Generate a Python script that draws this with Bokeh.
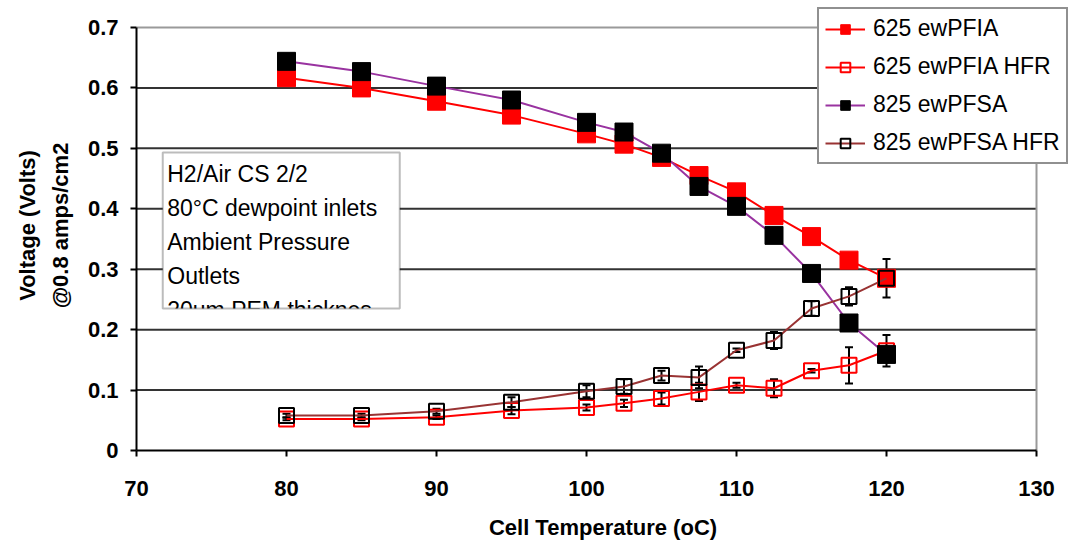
from bokeh.plotting import figure
from bokeh.models import (Range1d, FixedTicker, Legend, LegendItem, Whisker, TeeHead,
                          ColumnDataSource, BoxAnnotation, Label)
from bokeh.embed import file_html
from bokeh.resources import INLINE

# ---------------- data ----------------
temps = [80, 85, 90, 95, 100, 102.5, 105, 107.5, 110, 112.5, 115, 117.5, 120]
v625 = [0.617, 0.600, 0.578, 0.555, 0.524, 0.507, 0.485, 0.455, 0.428, 0.389, 0.354, 0.315, 0.285]
hfr625 = [0.052, 0.052, 0.055, 0.066, 0.071, 0.078, 0.086, 0.097, 0.108, 0.103, 0.132, 0.141, 0.165]
v825 = [0.644, 0.627, 0.603, 0.580, 0.543, 0.527, 0.492, 0.437, 0.404, 0.356, 0.293, 0.211, 0.159]
hfr825 = [0.058, 0.058, 0.065, 0.080, 0.098, 0.106, 0.124, 0.121, 0.166, 0.182, 0.235, 0.255, 0.285]
err625 = [0.002, 0.002, 0.003, 0.006, 0.005, 0.006, 0.010, 0.015, 0.004, 0.015, 0.003, 0.030, 0.026]
err825 = [0.003, 0.003, 0.004, 0.008, 0.010, 0.012, 0.008, 0.018, 0.003, 0.014, 0.012, 0.015, 0.032]

series_names = ["625 ewPFIA", "625 ewPFIA HFR", "825 ewPFSA", "825 ewPFSA HFR"]
x_ticks = [70, 80, 90, 100, 110, 120, 130]
y_ticks = [0, 0.1, 0.2, 0.3, 0.4, 0.5, 0.6, 0.7]
note_lines = ["H2/Air CS 2/2", "80\u00b0C dewpoint inlets", "Ambient Pressure",
              "Outlets", "20um PEM thicknes"]

X_MIN, X_MAX = x_ticks[0], x_ticks[-1]
Y_MIN, Y_MAX = y_ticks[0], y_ticks[-1]

# ---------------- figure ----------------
FONT = "Liberation Sans"
W, H = 1069, 548
LEFT, BOTTOM, TOP = 136, 98, 27
# frame is extended to the right/top so the legend can sit over the plot edge
x_end = X_MIN + (W - LEFT) / 15.0
y_end = Y_MAX * (H - BOTTOM) / (H - BOTTOM - TOP)
p = figure(width=W, height=H, output_backend="svg", toolbar_location=None,
           x_range=Range1d(X_MIN, x_end), y_range=Range1d(Y_MIN, y_end),
           min_border_left=LEFT, min_border_right=0, min_border_top=0, min_border_bottom=BOTTOM)
p.background_fill_color = "white"
p.border_fill_color = "white"
p.outline_line_color = None
p.xgrid.visible = False
p.ygrid.visible = False

for ax in (p.xaxis[0], p.yaxis[0]):
    ax.axis_line_color = "black"
    ax.axis_line_width = 2
    ax.major_tick_line_color = "black"
    ax.major_tick_line_width = 2
    ax.major_tick_out = 6
    ax.major_tick_in = 0
    ax.minor_tick_line_color = None
    ax.major_label_text_font = FONT
    ax.major_label_text_font_style = "bold"
    ax.major_label_text_font_size = "22px"
    ax.major_label_text_color = "black"
    ax.axis_label_text_font = FONT
    ax.axis_label_text_font_style = "bold"
    ax.axis_label_text_color = "black"

p.xaxis.axis_label_text_font_size = "22px"
p.yaxis.axis_label_text_font_size = "22px"
p.xaxis.bounds = (X_MIN, X_MAX)
p.yaxis.bounds = (Y_MIN, Y_MAX)
p.xaxis.ticker = FixedTicker(ticks=x_ticks)
p.yaxis.ticker = FixedTicker(ticks=y_ticks)
p.yaxis.major_label_overrides = {0: "0"}
p.xaxis.axis_label = "Cell Temperature (oC)"
p.yaxis.axis_label = "Voltage (Volts)\n@0.8 amps/cm2"
p.yaxis.axis_label_text_line_height = 1.3
p.xaxis.major_label_standoff = 24
p.xaxis.axis_label_standoff = 16
p.yaxis.major_label_standoff = 12
p.yaxis.axis_label_standoff = 12

# grid lines and plot-area border, limited to the axis extents
grid_y = [t for t in y_ticks if Y_MIN < t < Y_MAX]
p.segment(x0=[X_MIN] * len(grid_y), x1=[X_MAX] * len(grid_y), y0=grid_y, y1=grid_y,
          line_color="#333333", line_width=2)
p.segment(x0=[X_MIN, X_MAX], x1=[X_MAX, X_MAX], y0=[Y_MAX, Y_MIN], y1=[Y_MAX, Y_MAX],
          line_color="#9a9a9a", line_width=2)

# ---------------- series ----------------
red = "#ff0000"
purple = "#9933a0"
brown = "#993333"

l1 = p.line(temps, v625, line_color=red, line_width=2)
m1 = p.scatter(temps, v625, marker="square", size=18, fill_color=red, line_color=red)

l2 = p.line(temps, hfr625, line_color=red, line_width=2)
m2 = p.scatter(temps, hfr625, marker="square", size=15, fill_alpha=0, line_color=red, line_width=2)

l3 = p.line(temps, v825, line_color=purple, line_width=2)
m3 = p.scatter(temps, v825, marker="square", size=18, fill_color="black", line_color="black")

l4 = p.line(temps, hfr825, line_color=brown, line_width=2)
m4 = p.scatter(temps, hfr825, marker="square", size=15, fill_alpha=0, line_color="black", line_width=2)

for vals, errs in ((hfr625, err625), (hfr825, err825)):
    src = ColumnDataSource(dict(x=temps,
                                lo=[v - e for v, e in zip(vals, errs)],
                                hi=[v + e for v, e in zip(vals, errs)]))
    w = Whisker(source=src, base="x", lower="lo", upper="hi", line_color="black", line_width=2,
                lower_head=TeeHead(size=8, line_color="black", line_width=2),
                upper_head=TeeHead(size=8, line_color="black", line_width=2))
    p.add_layout(w)

# ---------------- note box ----------------
box_left, box_right, box_top, box_bottom = 71.75, 87.55, 0.493, 0.235
p.add_layout(BoxAnnotation(left=box_left, right=box_right, top=box_top, bottom=box_bottom,
                           fill_color="white", fill_alpha=1, line_color=None))
line_y0 = 0.458
line_dy = 0.0563
for i, t in enumerate(note_lines):
    p.add_layout(Label(x=72.05, y=line_y0 - i * line_dy, text=t, text_font=FONT,
                       text_font_size="23px", text_baseline="middle", text_color="black"))
p.add_layout(BoxAnnotation(left=box_left - 0.1, right=box_right + 0.1, top=box_bottom,
                           bottom=box_bottom - 0.03, fill_color="white", fill_alpha=1, line_color=None))
p.add_layout(BoxAnnotation(left=box_left, right=box_right, top=box_top, bottom=box_bottom,
                           fill_alpha=0, line_color="#222222", line_width=2))

# ---------------- legend ----------------
legend = Legend(items=[LegendItem(label=series_names[0], renderers=[l1, m1]),
                       LegendItem(label=series_names[1], renderers=[l2, m2]),
                       LegendItem(label=series_names[2], renderers=[l3, m3]),
                       LegendItem(label=series_names[3], renderers=[l4, m4])],
                location=(681, 286))
legend.label_text_font = FONT
legend.label_text_font_size = "23px"
legend.label_text_color = "black"
legend.glyph_width = 40
legend.glyph_height = 24
legend.label_height = 24
legend.label_standoff = 8
legend.spacing = 11
legend.padding = 6
legend.margin = 0
legend.border_line_color = "#222222"
legend.border_line_width = 2
legend.background_fill_color = "white"
legend.background_fill_alpha = 1
p.add_layout(legend)

open("out.html", "w").write(file_html(p, INLINE))
